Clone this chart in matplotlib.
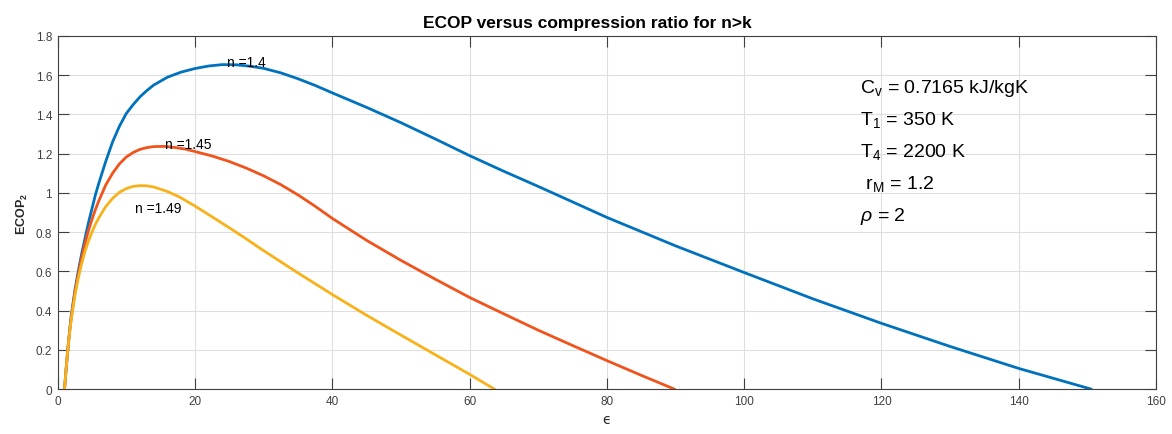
import numpy as np
import matplotlib
matplotlib.use("Agg")
import matplotlib.pyplot as plt
from matplotlib.ticker import FuncFormatter

plt.rcParams['font.family'] = ['Liberation Sans', 'DejaVu Sans']
plt.rcParams['mathtext.fontset'] = 'custom'
plt.rcParams['mathtext.rm'] = 'Liberation Sans'
plt.rcParams['mathtext.it'] = 'Liberation Sans:italic'
plt.rcParams['mathtext.bf'] = 'Liberation Sans:bold'

# ECOP_2 against compression ratio, one curve per polytropic index n
eps_140 = [1, 1.25, 1.5, 1.75, 2, 2.5, 3, 3.5, 4, 4.5, 5, 5.5, 6, 7, 8, 9, 10,
           11, 12, 13, 14, 16, 18, 20, 22, 24, 26, 28, 30, 32.5, 35, 37.5, 40,
           45, 50, 55, 60, 65, 70, 80, 90, 100, 110, 120, 130, 140, 150.5]
ecop_140 = [0, 0.11, 0.21, 0.30, 0.38, 0.50, 0.60, 0.69, 0.77, 0.85, 0.92,
            0.99, 1.05, 1.16, 1.26, 1.34, 1.405, 1.45, 1.49, 1.522, 1.55, 1.59,
            1.616, 1.634, 1.647, 1.654, 1.653, 1.646, 1.635, 1.612, 1.582,
            1.548, 1.51, 1.436, 1.358, 1.275, 1.19, 1.11, 1.033, 0.875, 0.73,
            0.594, 0.46, 0.335, 0.217, 0.105, 0]

eps_145 = [1, 1.25, 1.5, 1.75, 2, 2.5, 3, 3.5, 4, 4.5, 5, 5.5, 6, 7, 8, 9, 10,
           11, 12, 13, 14, 15.6, 17, 18.5, 20, 22.5, 25, 27.5, 30, 32.5, 35,
           37.5, 40, 45, 50, 55, 60, 65, 70, 75, 80, 85, 89.8]
ecop_145 = [0, 0.11, 0.21, 0.295, 0.37, 0.49, 0.585, 0.67, 0.745, 0.81, 0.865,
            0.915, 0.96, 1.04, 1.10, 1.148, 1.183, 1.206, 1.222, 1.231, 1.236,
            1.237, 1.232, 1.224, 1.211, 1.188, 1.16, 1.126, 1.087, 1.042,
            0.99, 0.932, 0.87, 0.758, 0.656, 0.56, 0.467, 0.383, 0.30, 0.222,
            0.145, 0.07, 0]

eps_149 = [1, 1.25, 1.5, 1.75, 2, 2.5, 3, 3.5, 4, 4.5, 5, 5.5, 6, 7, 8, 9, 10,
           11, 12, 13, 14, 16, 17.8, 20, 22.5, 25, 27.5, 29.5, 35, 40, 45, 50,
           55, 60, 63.6]
ecop_149 = [0, 0.11, 0.21, 0.29, 0.36, 0.475, 0.565, 0.64, 0.705, 0.755, 0.80,
            0.84, 0.873, 0.93, 0.972, 1.003, 1.022, 1.033, 1.037, 1.036, 1.03,
            1.007, 0.978, 0.933, 0.878, 0.822, 0.765, 0.717, 0.592, 0.482,
            0.376, 0.275, 0.175, 0.075, 0]

params = [r'C$_\mathrm{v}$ = 0.7165 kJ/kgK', r'T$_\mathrm{1}$ = 350 K',
          r'T$_\mathrm{4}$ = 2200 K', r' r$_\mathrm{M}$ = 1.2', r'$\rho$ = 2']

fig = plt.figure(figsize=(11.72, 4.35), dpi=100)
ax = fig.add_axes([0.0492, 0.1034, 0.9372, 0.8116])

ax.plot(eps_140, ecop_140, color='#0072BD', lw=2.0)
ax.plot(eps_145, ecop_145, color='#F0541C', lw=2.0)
ax.plot(eps_149, ecop_149, color='#F7B21B', lw=2.0)

ax.text(24.6, 1.649, 'n =1.4', fontsize=10)
ax.text(15.6, 1.229, 'n =1.45', fontsize=10)
ax.text(11.3, 0.904, 'n =1.49', fontsize=10)

for i, line in enumerate(params):
    ax.text(0.7305, 0.8405 - i * 0.0905, line, fontsize=14,
            transform=ax.transAxes)

ax.set_xlim(0, 160)
ax.set_ylim(0, 1.8)
ax.set_xticks(np.arange(0, 161, 20))
ax.set_yticks(np.arange(0, 1.81, 0.2))
ax.yaxis.set_major_formatter(FuncFormatter(lambda v, p: f'{v:g}'))
ax.grid(True, color='#dedede', lw=0.8)
ax.set_axisbelow(True)
ax.tick_params(direction='in', length=7.7, width=0.8, top=True, right=True,
               colors='#404040', labelsize=8.5, pad=4)
for s in ax.spines.values():
    s.set_color('#404040')
    s.set_linewidth(0.8)

ax.set_title('ECOP versus compression ratio for n>k', fontsize=12.5,
             fontweight='bold', x=0.4826, pad=6.3)
ax.set_xlabel('ϵ', family='DejaVu Sans', fontsize=10, color='#262626')
ax.set_ylabel(r'$\mathbf{ECOP_2}$', fontsize=9, color='#262626')

fig.savefig('out.png', dpi=100)
